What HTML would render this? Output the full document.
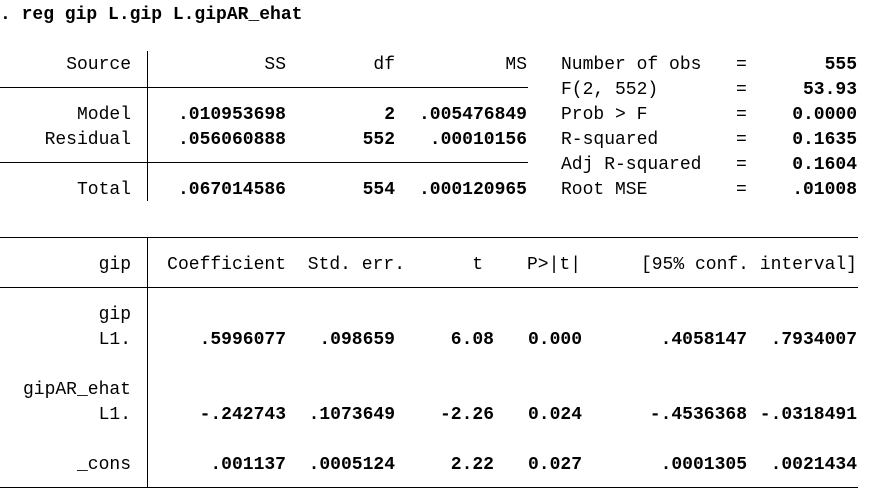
<!DOCTYPE html>
<html><head><meta charset="utf-8">
<style>
body{margin:0;width:881px;height:499px;background:#fff;position:relative;overflow:hidden;font-family:"Liberation Mono",monospace;font-size:18px;color:#000}
.t{position:absolute;line-height:24px;white-space:pre;margin-top:2px}
.b{font-weight:bold}
.h{position:absolute;height:1px;background:#000}
.v{position:absolute;width:1px;background:#000}
</style></head><body>
<div class="t b" style="left:0;top:1px">. reg gip L.gip L.gipAR_ehat</div>

<!-- ANOVA table -->
<div>
<div class="v" style="left:147px;top:51px;height:150px"></div>
<div class="h" style="left:0;top:87px;width:528px"></div>
<div class="h" style="left:0;top:162px;width:528px"></div>
<div class="t" style="right:750px;top:51px">Source</div>
<div class="t" style="right:595px;top:51px">SS</div>
<div class="t" style="right:486px;top:51px">df</div>
<div class="t" style="right:354px;top:51px">MS</div>

<div class="t" style="right:750px;top:101px">Model</div>
<div class="t b" style="right:595px;top:101px">.010953698</div>
<div class="t b" style="right:486px;top:101px">2</div>
<div class="t b" style="right:354px;top:101px">.005476849</div>
<div class="t" style="right:750px;top:126px">Residual</div>
<div class="t b" style="right:595px;top:126px">.056060888</div>
<div class="t b" style="right:486px;top:126px">552</div>
<div class="t b" style="right:354px;top:126px">.00010156</div>
<div class="t" style="right:750px;top:176px">Total</div>
<div class="t b" style="right:595px;top:176px">.067014586</div>
<div class="t b" style="right:486px;top:176px">554</div>
<div class="t b" style="right:354px;top:176px">.000120965</div>
</div>

<!-- Model stats -->
<div>
<div class="t" style="left:561px;top:51px">Number of obs</div>
<div class="t" style="left:561px;top:76px">F(2, 552)</div>
<div class="t" style="left:561px;top:101px">Prob &gt; F</div>
<div class="t" style="left:561px;top:126px">R-squared</div>
<div class="t" style="left:561px;top:151px">Adj R-squared</div>
<div class="t" style="left:561px;top:176px">Root MSE</div>
<div class="t" style="left:736px;top:51px">=</div>
<div class="t" style="left:736px;top:76px">=</div>
<div class="t" style="left:736px;top:101px">=</div>
<div class="t" style="left:736px;top:126px">=</div>
<div class="t" style="left:736px;top:151px">=</div>
<div class="t" style="left:736px;top:176px">=</div>
<div class="t b" style="right:24px;top:51px">555</div>
<div class="t b" style="right:24px;top:76px">53.93</div>
<div class="t b" style="right:24px;top:101px">0.0000</div>
<div class="t b" style="right:24px;top:126px">0.1635</div>
<div class="t b" style="right:24px;top:151px">0.1604</div>
<div class="t b" style="right:24px;top:176px">.01008</div>
</div>

<!-- Coefficient table -->
<div>
<div class="h" style="left:0;top:237px;width:858px"></div>
<div class="h" style="left:0;top:287px;width:858px"></div>
<div class="h" style="left:0;top:487px;width:858px"></div>
<div class="v" style="left:147px;top:237px;height:251px"></div>
<div class="t" style="right:750px;top:251px">gip</div>
<div class="t" style="right:595px;top:251px">Coefficient</div>
<div class="t" style="right:476px;top:251px">Std. err.</div>
<div class="t" style="right:398px;top:251px">t</div>
<div class="t" style="right:300px;top:251px">P&gt;|t|</div>
<div class="t" style="right:24px;top:251px">[95% conf. interval]</div>

<div class="t" style="right:750px;top:301px">gip</div>
<div class="t" style="right:750px;top:326px">L1.</div>
<div class="t b" style="right:595px;top:326px">.5996077</div>
<div class="t b" style="right:486px;top:326px">.098659</div>
<div class="t b" style="right:387px;top:326px">6.08</div>
<div class="t b" style="right:299px;top:326px">0.000</div>
<div class="t b" style="right:134px;top:326px">.4058147</div>
<div class="t b" style="right:24px;top:326px">.7934007</div>

<div class="t" style="right:750px;top:376px">gipAR_ehat</div>
<div class="t" style="right:750px;top:401px">L1.</div>
<div class="t b" style="right:595px;top:401px">-.242743</div>
<div class="t b" style="right:486px;top:401px">.1073649</div>
<div class="t b" style="right:387px;top:401px">-2.26</div>
<div class="t b" style="right:299px;top:401px">0.024</div>
<div class="t b" style="right:134px;top:401px">-.4536368</div>
<div class="t b" style="right:24px;top:401px">-.0318491</div>

<div class="t" style="right:750px;top:451px">_cons</div>
<div class="t b" style="right:595px;top:451px">.001137</div>
<div class="t b" style="right:486px;top:451px">.0005124</div>
<div class="t b" style="right:387px;top:451px">2.22</div>
<div class="t b" style="right:299px;top:451px">0.027</div>
<div class="t b" style="right:134px;top:451px">.0001305</div>
<div class="t b" style="right:24px;top:451px">.0021434</div>
</div>
</body></html>
